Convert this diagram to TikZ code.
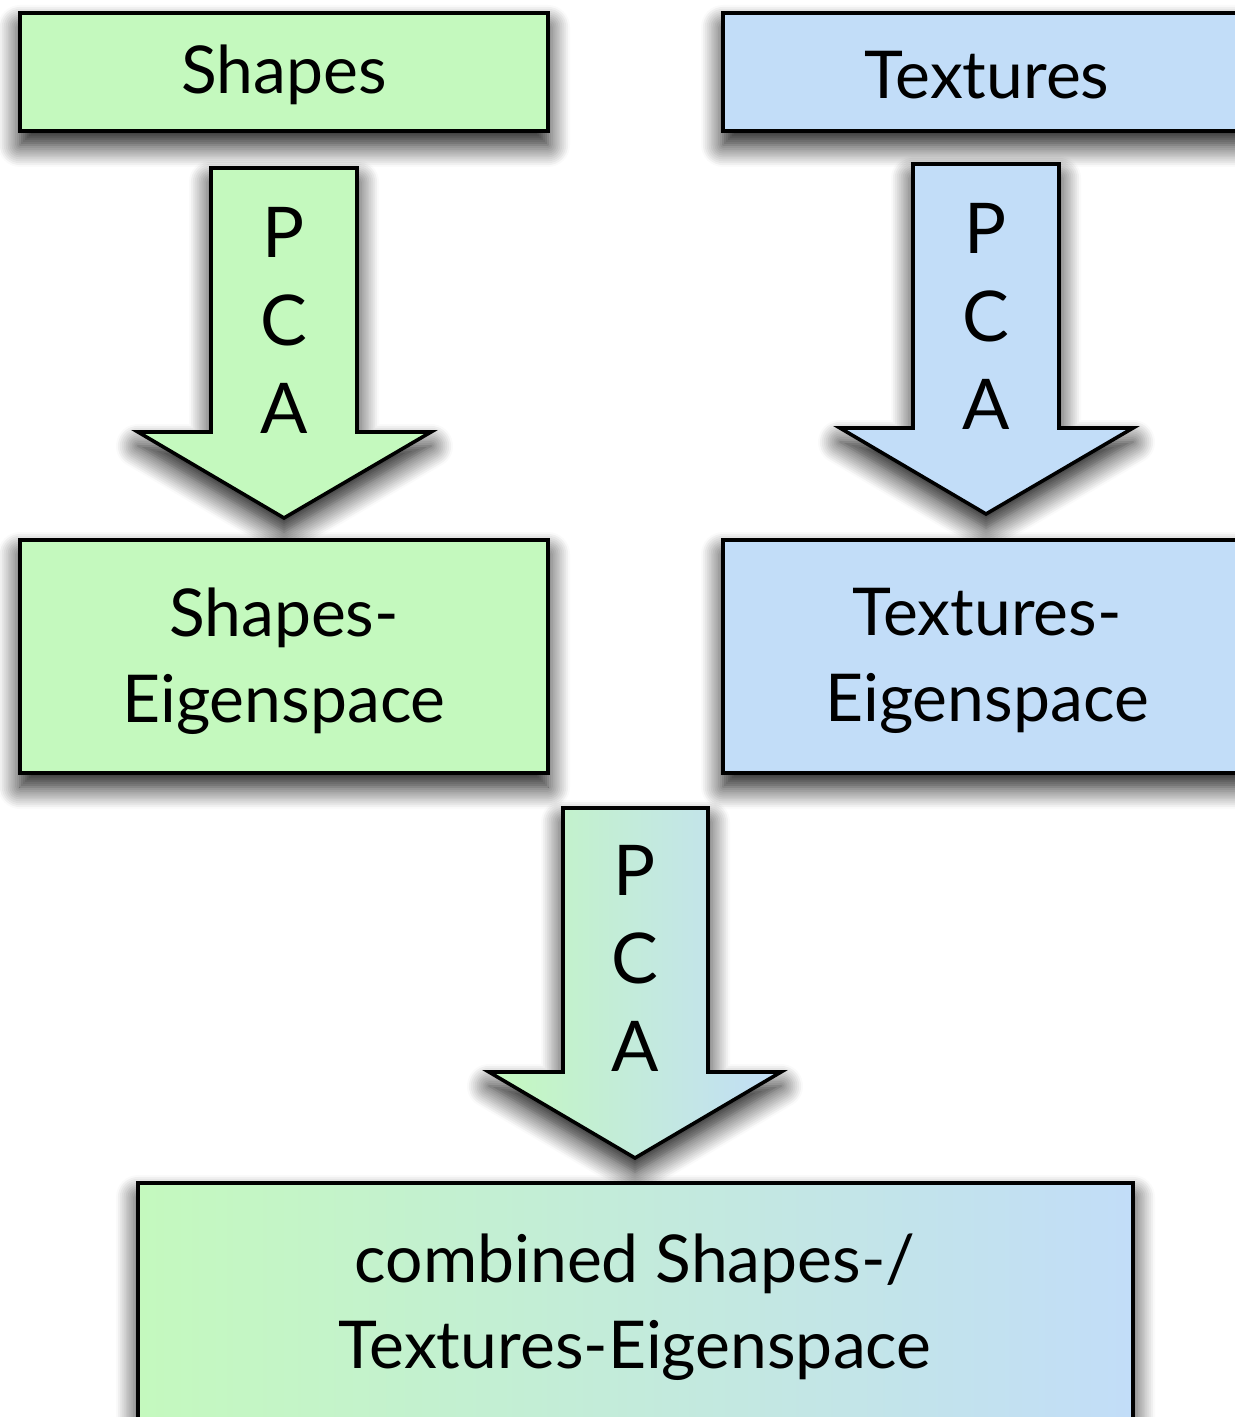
\documentclass[tikz,border=0pt]{standalone}
\usepackage{fontspec}
\setmainfont{Lato}
\usetikzlibrary{shadows.blur}
\definecolor{shapegreen}{HTML}{C4F9BE}
\definecolor{textureblue}{HTML}{C2DDF8}
\tikzset{
  softshadow/.style={blur shadow={shadow xshift=0pt, shadow yshift=-7pt,
      shadow blur radius=11pt, shadow blur steps=12, shadow opacity=95}},
  panel/.style={draw=black, line width=1.8pt, line join=miter, softshadow},
  boxtext/.style={font=\fontsize{33}{43}\selectfont, align=center, inner sep=0pt},
  pcaarrow/.style={draw=black, line width=1.8pt, line join=miter, softshadow},
  pcalabel/.style={font=\fontsize{35}{44}\selectfont, align=center, inner sep=0pt},
}
\begin{document}
\begin{tikzpicture}[x=0.5pt,y=-0.5pt]
\useasboundingbox (0,0) rectangle (1235,1417);
\clip (0,0) rectangle (1235,1417);

% source data
\node[panel, fill=shapegreen, minimum width=264pt, minimum height=59pt]
  (shapes) at (284,72) {};
\node[boxtext] (shapestext) at (284,75) {Shapes};
\node[panel, fill=textureblue, minimum width=264pt, minimum height=59pt]
  (textures) at (987,72) {};
\node[boxtext] (texturestext) at (987,75) {Textures};

% PCA arrows from the data to their eigenspaces
\path[pcaarrow, fill=shapegreen]
  (211,168) -- (357,168) -- (357,432) -- (431,432) -- (284,518)
  -- (138,432) -- (211,432) -- cycle;
\node[pcalabel] (pcashapes) at (284,320) {P\\C\\A};

\path[pcaarrow, fill=textureblue]
  (913,164) -- (1059,164) -- (1059,428) -- (1133,428) -- (986,514)
  -- (840,428) -- (913,428) -- cycle;
\node[pcalabel] (pcatextures) at (986,316) {P\\C\\A};

% eigenspaces
\node[panel, fill=shapegreen, minimum width=264pt, minimum height=116.5pt]
  (shapeeig) at (284,656.5) {};
\node[boxtext] (shapeeigtext) at (284,661) {Shapes-\\Eigenspace};
\node[panel, fill=textureblue, minimum width=264pt, minimum height=116.5pt]
  (textureeig) at (987,656.5) {};
\node[boxtext] (textureeigtext) at (987,661) {Textures-\\Eigenspace};

% combining PCA
\path[pcaarrow, left color=shapegreen, right color=textureblue]
  (563,808) -- (708,808) -- (708,1072) -- (781,1072) -- (635,1158)
  -- (489,1072) -- (563,1072) -- cycle;
\node[pcalabel] (pcacombined) at (635,958) {P\\C\\A};

% combined eigenspace
\path[pcaarrow, left color=shapegreen, right color=textureblue]
  (138,1183) rectangle (1133,1450);
\node[boxtext] (combined) at (635,1307) {combined Shapes-/\\Textures-Eigenspace};
\end{tikzpicture}
\end{document}
